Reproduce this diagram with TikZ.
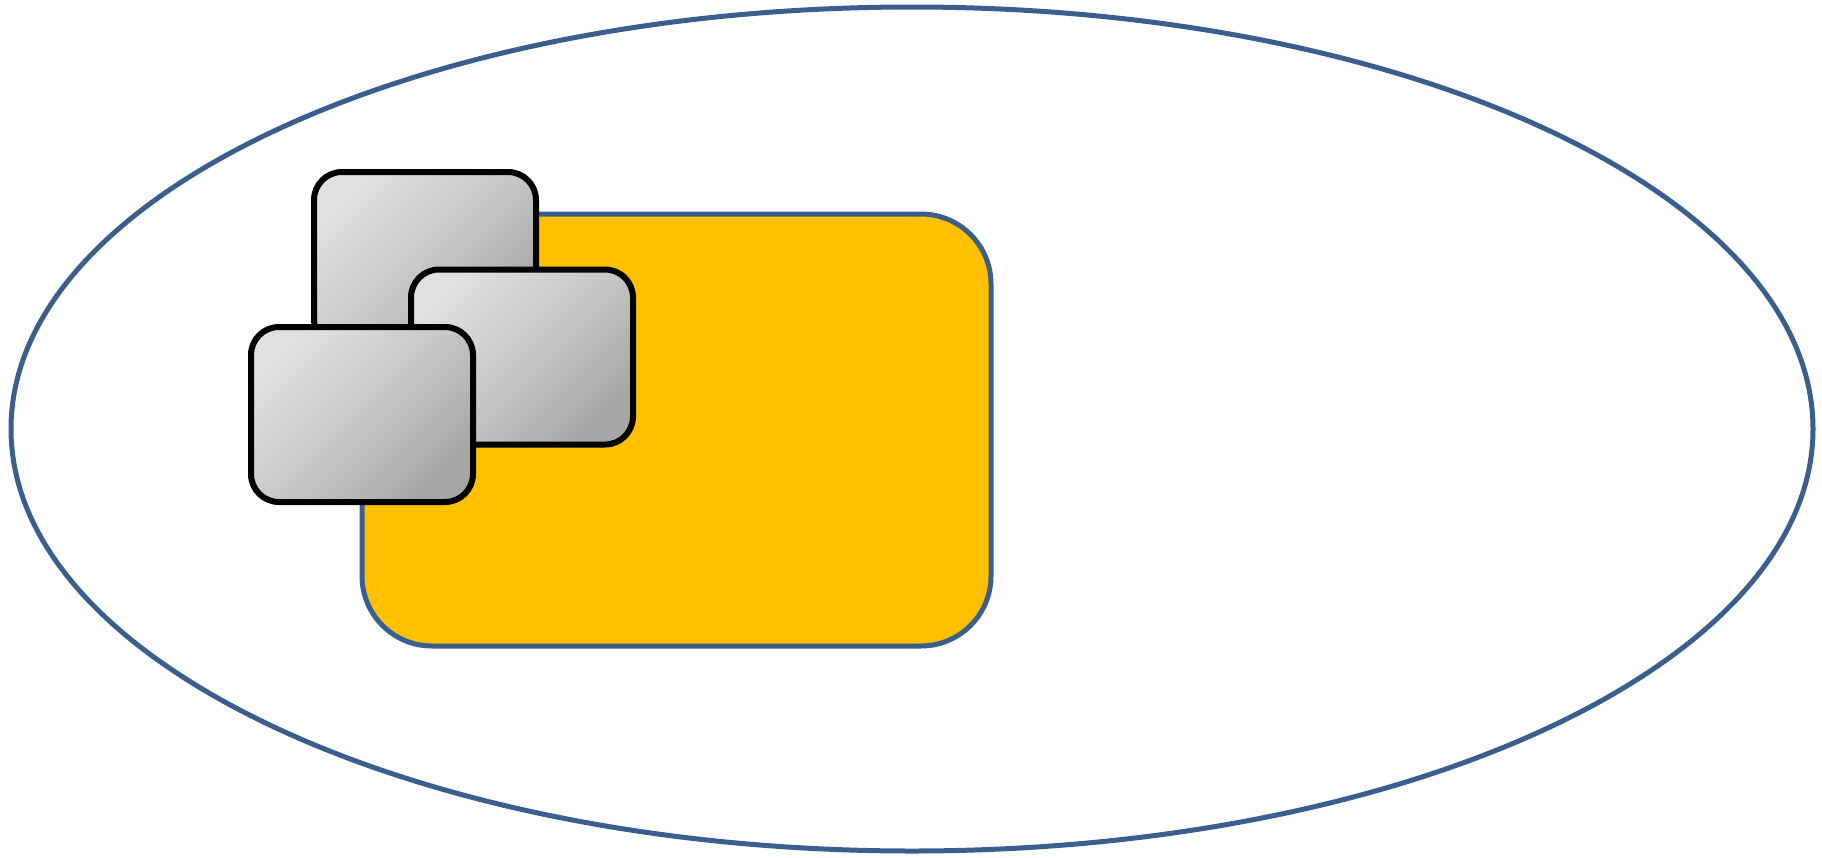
\documentclass[tikz,border=0pt]{standalone}
\usetikzlibrary{shapes.geometric}
\definecolor{frameblue}{HTML}{3A5F8E}
\definecolor{boxyellow}{HTML}{FFC000}
\definecolor{graylight}{HTML}{E0E0E0}
\definecolor{graymid}{HTML}{C8C8C8}
\definecolor{graydark}{HTML}{A6A6A6}
\tikzset{
  outerring/.style={draw=frameblue, line width=5pt, ellipse, inner sep=0pt,
    minimum width=1802pt, minimum height=844pt},
  holder/.style={draw=frameblue, fill=boxyellow, line width=5pt, rounded corners=70pt,
    inner sep=0pt, minimum width=629pt, minimum height=432pt},
  card/.style={draw=black, line width=6pt, rounded corners=28pt, inner sep=0pt,
    minimum width=222pt, minimum height=175pt,
    top color=graylight, bottom color=graydark, middle color=graymid, shading angle=45}
}
\begin{document}
\begin{tikzpicture}[x=1pt, y=-1pt]
\useasboundingbox (0,0) rectangle (1822,857);
\node[outerring] (ring) at (912,429) {};
\node[holder] (yellow) at (676.5,430) {};
\node[card] (cardA) at (425,259.5) {};
\node[card] (cardB) at (522,357) {};
\node[card] (cardC) at (362,414.5) {};
\end{tikzpicture}
\end{document}
